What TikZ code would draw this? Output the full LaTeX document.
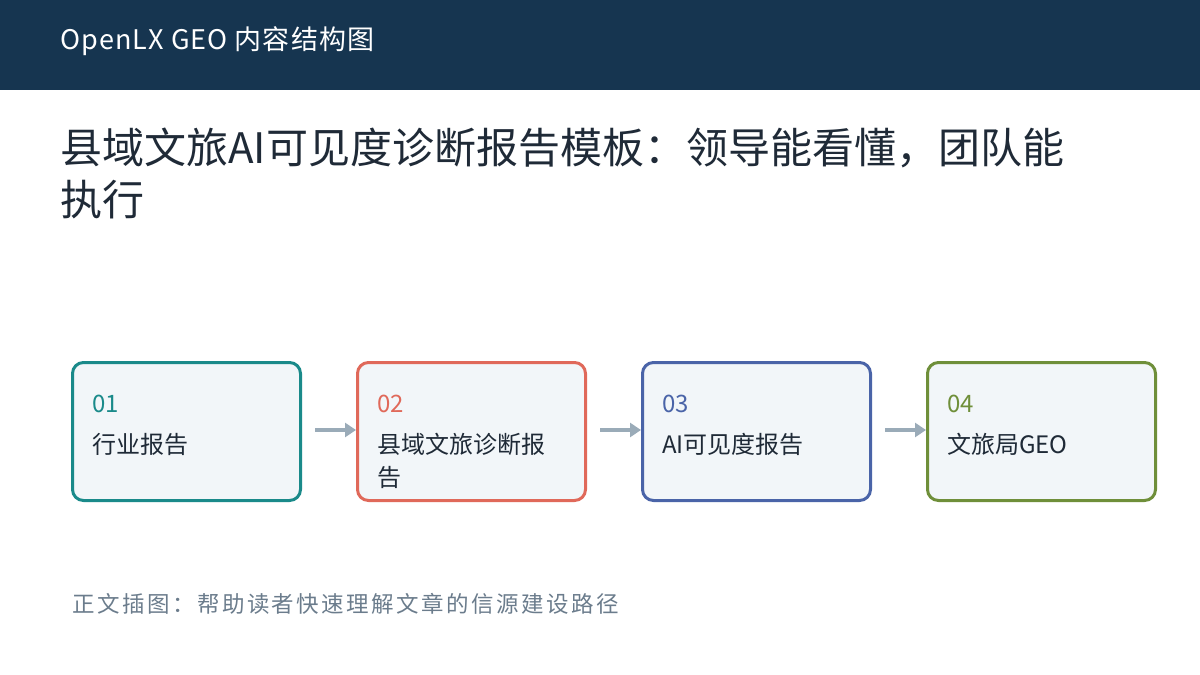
\documentclass[tikz,border=0pt]{standalone}
\usepackage{fontspec}
\setmainfont{Noto Sans CJK SC}
\newfontfamily\capfont[LetterSpace=11]{Noto Sans CJK SC}
\newfontfamily\hdrfont[LetterSpace=4]{Noto Sans CJK SC}
\usetikzlibrary{arrows.meta}
\definecolor{navy}{HTML}{163550}
\definecolor{ink}{HTML}{1F2A37}
\definecolor{boxfill}{HTML}{F2F6F9}
\definecolor{cA}{HTML}{1A8A8A}
\definecolor{cB}{HTML}{E0695A}
\definecolor{cC}{HTML}{4A64A8}
\definecolor{cD}{HTML}{6F8F3A}
\definecolor{arr}{HTML}{9AABB8}
\definecolor{cap}{HTML}{6B7C8C}
\newcommand{\fs}[1]{\fontsize{#1}{#1}\selectfont}
\tikzset{
 stepbox/.style={draw=#1, line width=3pt, fill=boxfill, rounded corners=11pt, minimum width=228pt, minimum height=138pt, anchor=north west},
 num/.style={anchor=west, text=#1, font=\fs{24}, inner sep=0},
 lab/.style={anchor=west, text=ink, font=\fs{24}, inner sep=0, align=left},
 flow/.style={draw=arr, line width=4.5pt, -{Triangle[length=11pt,width=14pt]}}
}
\begin{document}
\begin{tikzpicture}[x=1pt,y=-1pt]
\useasboundingbox (0,0) rectangle (1200,675);
\fill[navy] (0,0) rectangle (1200,90);
\node[anchor=west, text=white, font=\hdrfont\fs{27}, inner sep=0] (hdr) at (60,41) {OpenLX GEO 内容结构图};
\node[anchor=west, text=ink, font=\fs{42}, inner sep=0] (t1) at (60,148) {县域文旅AI可见度诊断报告模板：领导能看懂，团队能};
\node[anchor=west, text=ink, font=\fs{42}, inner sep=0] (t2) at (60,200) {执行};
\node[stepbox=cA] (b1) at (71,361) {};
\node[stepbox=cB] (b2) at (356,361) {};
\node[stepbox=cC] (b3) at (641,361) {};
\node[stepbox=cD] (b4) at (926,361) {};
\foreach \b/\c/\n in {b1/cA/01,b2/cB/02,b3/cC/03,b4/cD/04}{
  \node[num=\c] (\b n) at ([xshift=21pt,yshift=-43pt]\b.north west) {\n};
}
\node[lab] (b1l) at ([xshift=21pt,yshift=-83pt]b1.north west) {行业报告};
\node[lab] (b2l) at ([xshift=21pt,yshift=-83pt]b2.north west) {县域文旅诊断报};
\node[lab] (b2m) at ([xshift=21pt,yshift=-116pt]b2.north west) {告};
\node[lab] (b3l) at ([xshift=21pt,yshift=-83pt]b3.north west) {AI可见度报告};
\node[lab] (b4l) at ([xshift=21pt,yshift=-83pt]b4.north west) {文旅局GEO};
\coordinate (a1) at (315,430); \coordinate (a2) at (600,430); \coordinate (a3) at (885,430);
\draw[flow] (a1) -- (b2.west |- a1);
\draw[flow] (a2) -- (b3.west |- a2);
\draw[flow] (a3) -- (b4.west |- a3);
\node[anchor=west, text=cap, font=\capfont\fs{22.5}, inner sep=0] (cap) at (72,604) {正文插图：帮助读者快速理解文章的信源建设路径};
\end{tikzpicture}
\end{document}
